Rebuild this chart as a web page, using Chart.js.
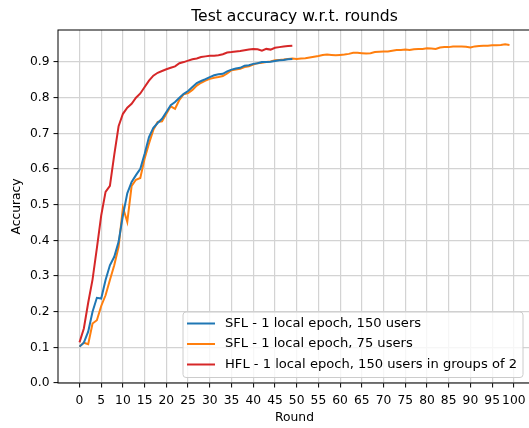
<!DOCTYPE html>
<html><head><meta charset="utf-8">
<script src="https://cdn.jsdelivr.net/npm/chart.js@4.4.1/dist/chart.umd.min.js"></script>
<style>
html,body{margin:0;padding:0;background:#fff;overflow:hidden;width:529px;height:428px}
#wrap{position:absolute;left:0;top:0;width:545px;height:428px}
</style>
</head><body><div id="wrap"><canvas id="c" width="545" height="428"></canvas></div>
<script>
const titleText = 'Test accuracy w.r.t. rounds';
const xAxisLabel = 'Round';
const yAxisLabel = 'Accuracy';
const seriesLabels = ['SFL - 1 local epoch, 150 users', 'SFL - 1 local epoch, 75 users', 'HFL - 1 local epoch, 150 users in groups of 2'];
const rounds = [0,1,2,3,4,5,6,7,8,9,10,11,12,13,14,15,16,17,18,19,20,21,22,23,24,25,26,27,28,29,30,31,32,33,34,35,36,37,38,39,40,41,42,43,44,45,46,47,48,49,50,51,52,53,54,55,56,57,58,59,60,61,62,63,64,65,66,67,68,69,70,71,72,73,74,75,76,77,78,79,80,81,82,83,84,85,86,87,88,89,90,91,92,93,94,95,96,97,98,99];
const sfl150 = [0.102,0.113,0.144,0.200,0.239,0.237,0.289,0.330,0.354,0.396,0.470,0.532,0.564,0.583,0.601,0.643,0.690,0.716,0.729,0.741,0.760,0.779,0.788,0.800,0.811,0.819,0.830,0.841,0.847,0.852,0.858,0.863,0.866,0.867,0.874,0.879,0.882,0.884,0.890,0.891,0.895,0.897,0.900,0.900,0.901,0.903,0.905,0.906,0.908,0.909];
const sfl75 = [0.102,0.113,0.109,0.167,0.176,0.216,0.246,0.289,0.330,0.382,0.492,0.452,0.553,0.570,0.575,0.630,0.672,0.710,0.732,0.734,0.755,0.776,0.769,0.794,0.810,0.813,0.822,0.834,0.842,0.848,0.853,0.856,0.858,0.861,0.868,0.877,0.879,0.881,0.886,0.888,0.893,0.897,0.898,0.900,0.902,0.905,0.906,0.907,0.909,0.910,0.909,0.910,0.911,0.913,0.915,0.917,0.920,0.921,0.920,0.919,0.920,0.921,0.923,0.926,0.926,0.925,0.924,0.925,0.928,0.929,0.930,0.930,0.932,0.934,0.934,0.935,0.934,0.936,0.937,0.937,0.939,0.938,0.937,0.941,0.942,0.942,0.944,0.944,0.944,0.943,0.941,0.944,0.945,0.946,0.946,0.947,0.947,0.948,0.950,0.948];
const hfl150 = [0.114,0.153,0.225,0.290,0.378,0.470,0.536,0.553,0.640,0.720,0.755,0.772,0.783,0.800,0.812,0.830,0.848,0.862,0.870,0.875,0.880,0.884,0.888,0.897,0.900,0.904,0.908,0.910,0.914,0.916,0.918,0.918,0.919,0.922,0.927,0.928,0.930,0.931,0.933,0.935,0.937,0.936,0.932,0.937,0.935,0.940,0.942,0.944,0.945,0.946];
const xTicks = [0,5,10,15,20,25,30,35,40,45,50,55,60,65,70,75,80,85,90,95,100];
const yTicks = [0.0,0.1,0.2,0.3,0.4,0.5,0.6,0.7,0.8,0.9];
const seriesColors = ['#1f77b4', '#ff7f0e', '#d62728'];

const FONT = '"DejaVu Sans", "Liberation Sans", sans-serif';

const framePlugin = {
  id: 'frame',
  afterDraw(chart) {
    const {ctx, chartArea: a} = chart;
    ctx.save();
    ctx.strokeStyle = '#000';
    ctx.lineWidth = 1;
    ctx.strokeRect(a.left, a.top, a.right - a.left, a.bottom - a.top);
    ctx.fillStyle = '#000';
    ctx.font = '15.6px ' + FONT;
    ctx.textAlign = 'center';
    ctx.textBaseline = 'alphabetic';
    ctx.fillText(titleText, (a.left + a.right) / 2, a.top - 9);
    ctx.font = '13.1px ' + FONT;
    let maxW = 0;
    chart.data.datasets.forEach(d => { maxW = Math.max(maxW, ctx.measureText(d.label).width); });
    const boxLeft = 183, boxTop = 312, rowH = 20.5;
    const boxW = 5 + 28 + 10 + maxW + 5;
    const boxH = chart.data.datasets.length * rowH + 4;
    ctx.fillStyle = 'rgba(255,255,255,0.8)';
    ctx.strokeStyle = '#cccccc';
    ctx.lineWidth = 1;
    ctx.beginPath();
    if (ctx.roundRect) ctx.roundRect(boxLeft, boxTop, boxW, boxH, 3); else ctx.rect(boxLeft, boxTop, boxW, boxH);
    ctx.fill();
    ctx.stroke();
    ctx.textAlign = 'left';
    ctx.textBaseline = 'middle';
    chart.data.datasets.forEach((d, i) => {
      const y = boxTop + 11.5 + i * rowH;
      ctx.strokeStyle = d.borderColor;
      ctx.lineWidth = 2;
      ctx.beginPath();
      ctx.moveTo(boxLeft + 4, y);
      ctx.lineTo(boxLeft + 32, y);
      ctx.stroke();
      ctx.fillStyle = '#000';
      ctx.fillText(d.label, boxLeft + 42, y);
    });
    ctx.restore();
  }
};

new Chart(document.getElementById('c'), {
  type: 'line',
  data: {
    labels: rounds,
    datasets: [
      {label: seriesLabels[0], data: sfl150, borderColor: seriesColors[0]},
      {label: seriesLabels[1], data: sfl75, borderColor: seriesColors[1]},
      {label: seriesLabels[2], data: hfl150, borderColor: seriesColors[2]}
    ].map(d => Object.assign(d, {borderWidth: 2, pointRadius: 0, tension: 0, fill: false, backgroundColor: d.borderColor}))
  },
  options: {
    responsive: false,
    animation: false,
    devicePixelRatio: 1,
    layout: {padding: {top: 30, right: 14, left: 0, bottom: 0}},
    plugins: {legend: {display: false}, title: {display: false}, tooltip: {enabled: false}},
    scales: {
      x: {
        type: 'linear', min: -4.95, max: 103.95,
        afterBuildTicks: s => { s.ticks = xTicks.map(v => ({value: v})); },
        afterFit: s => { s.height = 45; },
        ticks: {autoSkip: false, maxRotation: 0, color: '#000', padding: 6, font: {family: FONT, size: 12.3}, callback: v => String(v)},
        grid: {color: '#d3d3d3', lineWidth: 1.2, tickColor: '#000', tickLength: 4.5, tickWidth: 1},
        border: {display: false},
        title: {display: true, text: xAxisLabel, color: '#000', font: {family: FONT, size: 12.3}, padding: {top: 0, bottom: 3}}
      },
      y: {
        type: 'linear', min: 0, max: 0.99,
        afterBuildTicks: s => { s.ticks = yTicks.map(v => ({value: v})); },
        afterFit: s => { s.width = 58; },
        ticks: {color: '#000', padding: 4, font: {family: FONT, size: 12.3}, callback: v => v.toFixed(1)},
        grid: {color: '#d3d3d3', lineWidth: 1.2, tickColor: '#000', tickLength: 4.5, tickWidth: 1},
        border: {display: false},
        title: {display: true, text: yAxisLabel, color: '#000', font: {family: FONT, size: 12.3}, padding: {top: 9, bottom: 0}}
      }
    }
  },
  plugins: [framePlugin]
});
</script>
</body></html>
